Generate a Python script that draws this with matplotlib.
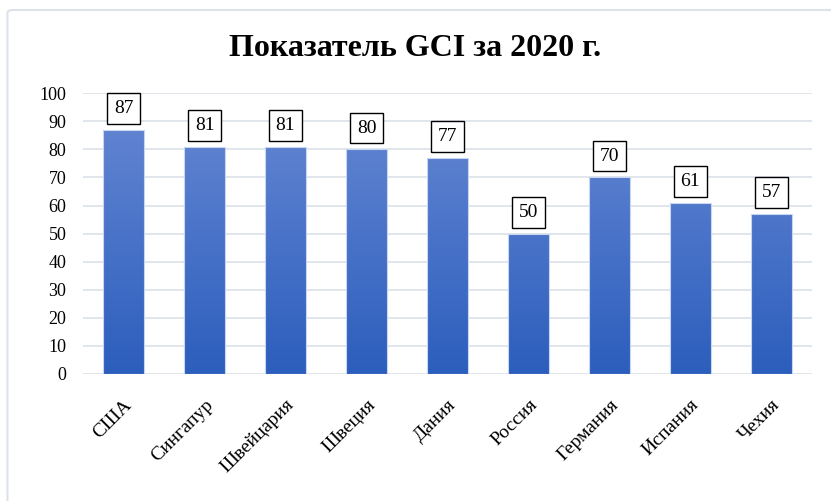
import numpy as np
import matplotlib.pyplot as plt
from matplotlib.patches import FancyBboxPatch

countries = ['США', 'Сингапур', 'Швейцария', 'Швеция', 'Дания',
             'Россия', 'Германия', 'Испания', 'Чехия']
gci = [87, 81, 81, 80, 77, 50, 70, 61, 57]
yticks = list(range(0, 101, 10))

plt.rcParams['font.family'] = ['Liberation Serif', 'DejaVu Serif']

fig = plt.figure(figsize=(8.31, 5.01), dpi=100)
# chart frame, cut off at the right and bottom like the screenshot
frame = FancyBboxPatch((0.009, -0.05), 1.2, 1.03, boxstyle='round,pad=0,rounding_size=0.006',
                       transform=fig.transFigure, fc='none', ec='#DCE2EA', lw=1.5, zorder=-1)
fig.patches.append(frame)

ax = fig.add_axes([0.1, 0.2535, 0.877, 0.5605])
ax.set_facecolor('none')
x = np.arange(len(countries))
bars = ax.bar(x, gci, width=0.5, color='none', edgecolor='#C9D6F0', lw=0.8, zorder=3)

# vertical gradient for the bars
grad = np.linspace(0, 1, 256).reshape(-1, 1)
cmap = plt.matplotlib.colors.LinearSegmentedColormap.from_list('g', ['#2C5EBD', '#6889D4'])
for b, v in zip(bars, gci):
    im = ax.imshow(grad, cmap=cmap, origin='lower', aspect='auto', zorder=2,
                   extent=[b.get_x(), b.get_x() + b.get_width(), 0, 100])
    im.set_clip_path(b)
    ax.text(b.get_x() + b.get_width() / 2, v + 7.6, str(v), ha='center', va='center',
            fontsize=14, zorder=4,
            bbox=dict(boxstyle='square,pad=0.35', fc='white', ec='black', lw=1))

ax.set_xlim(-0.5, len(countries) - 0.5)
ax.set_ylim(0, 100)
ax.set_yticks(yticks)
ax.yaxis.grid(True, color='#DCE2EA', lw=1.2, zorder=0)
ax.set_axisbelow(True)
for s in ax.spines.values():
    s.set_visible(False)
ax.tick_params(axis='both', length=0, labelsize=13, pad=12)
ax.set_xticks(x)
ax.set_xticklabels(countries, rotation=45, ha='right', rotation_mode='anchor', fontsize=14)
ax.tick_params(axis='x', pad=16)

fig.text(0.5, 0.903, 'Показатель GCI за 2020 г.', ha='center', va='center',
         fontsize=23, fontweight='bold')

fig.savefig('out.png', dpi=100)
